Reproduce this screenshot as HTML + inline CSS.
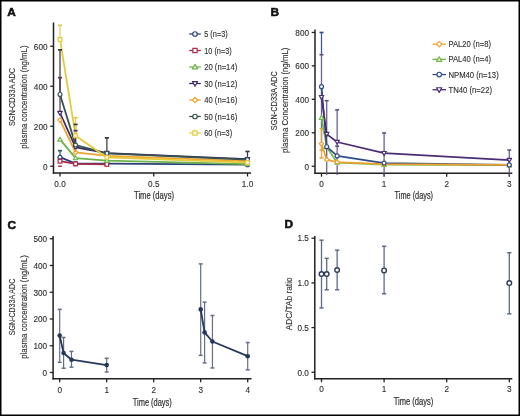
<!DOCTYPE html><html><head><meta charset="utf-8"><style>html,body{margin:0;padding:0;background:#fff;}svg{display:block;will-change:transform;}</style></head><body>
<svg width="520" height="416" viewBox="0 0 520 416" font-family='"Liberation Sans", sans-serif'>
<rect width="520" height="416" fill="#fff"/>
<text x="7.3" y="16.2" font-size="11.8" text-anchor="start" fill="#111" stroke="#111" stroke-width="0.55" font-weight="bold" >A</text>
<text x="270.6" y="16.1" font-size="11.8" text-anchor="start" fill="#111" stroke="#111" stroke-width="0.55" font-weight="bold" >B</text>
<text x="7.5" y="228.6" font-size="11.8" text-anchor="start" fill="#111" stroke="#111" stroke-width="0.55" font-weight="bold" >C</text>
<text x="284.4" y="228.1" font-size="11.8" text-anchor="start" fill="#111" stroke="#111" stroke-width="0.55" font-weight="bold" >D</text>
<line x1="53.5" y1="22.5" x2="53.5" y2="173.7" stroke="#231f20" stroke-width="1.5" />
<line x1="52.8" y1="173" x2="251" y2="173" stroke="#231f20" stroke-width="1.5" />
<line x1="50.2" y1="166.25" x2="53.5" y2="166.25" stroke="#231f20" stroke-width="1.3" />
<text x="47.5" y="169.5" font-size="8.2" text-anchor="end" fill="#2e2e2e" stroke="#2e2e2e" stroke-width="0.12" font-weight="normal" >0</text>
<line x1="50.2" y1="126.25" x2="53.5" y2="126.25" stroke="#231f20" stroke-width="1.3" />
<text x="47.5" y="129.5" font-size="8.2" text-anchor="end" fill="#2e2e2e" stroke="#2e2e2e" stroke-width="0.12" font-weight="normal" >200</text>
<line x1="50.2" y1="86.25" x2="53.5" y2="86.25" stroke="#231f20" stroke-width="1.3" />
<text x="47.5" y="89.5" font-size="8.2" text-anchor="end" fill="#2e2e2e" stroke="#2e2e2e" stroke-width="0.12" font-weight="normal" >400</text>
<line x1="50.2" y1="46.25" x2="53.5" y2="46.25" stroke="#231f20" stroke-width="1.3" />
<text x="47.5" y="49.5" font-size="8.2" text-anchor="end" fill="#2e2e2e" stroke="#2e2e2e" stroke-width="0.12" font-weight="normal" >600</text>
<line x1="60.0" y1="173" x2="60.0" y2="176.5" stroke="#231f20" stroke-width="1.3" />
<text x="60.0" y="186.8" font-size="8.2" text-anchor="middle" fill="#2e2e2e" stroke="#2e2e2e" stroke-width="0.12" font-weight="normal" >0.0</text>
<line x1="153.75" y1="173" x2="153.75" y2="176.5" stroke="#231f20" stroke-width="1.3" />
<text x="153.75" y="186.8" font-size="8.2" text-anchor="middle" fill="#2e2e2e" stroke="#2e2e2e" stroke-width="0.12" font-weight="normal" >0.5</text>
<line x1="247.5" y1="173" x2="247.5" y2="176.5" stroke="#231f20" stroke-width="1.3" />
<text x="247.5" y="186.8" font-size="8.2" text-anchor="middle" fill="#2e2e2e" stroke="#2e2e2e" stroke-width="0.12" font-weight="normal" >1.0</text>
<text x="154" y="199.3" font-size="10" text-anchor="middle" fill="#2e2e2e" stroke="#2e2e2e" stroke-width="0.2" font-weight="normal" textLength="40" lengthAdjust="spacingAndGlyphs" >Time (days)</text>
<text x="14.7" y="97" font-size="8.8" text-anchor="middle" fill="#2e2e2e" stroke="#2e2e2e" stroke-width="0.12" font-weight="normal" textLength="58" lengthAdjust="spacingAndGlyphs" transform="rotate(-90 14.7 97)" >SGN-CD33A ADC</text>
<text x="26.6" y="97.1" font-size="8.8" text-anchor="middle" fill="#2e2e2e" stroke="#2e2e2e" stroke-width="0.12" font-weight="normal" textLength="103.3" lengthAdjust="spacingAndGlyphs" transform="rotate(-90 26.6 97.1)" >plasma concentration (ng/mL)</text>
<polyline fill="none" stroke="#2a4179" stroke-width="1.8" stroke-linejoin="round" points="60.0,157.2 75.6,163.7 106.9,163.7 247.5,164.7"/>
<polyline fill="none" stroke="#aa2a4a" stroke-width="1.8" stroke-linejoin="round" points="60.0,161.2 75.6,163.8 106.9,164.4"/>
<polyline fill="none" stroke="#6cb44a" stroke-width="1.8" stroke-linejoin="round" points="60.0,139.4 75.6,158.1 106.9,160.7 247.5,164.1"/>
<polyline fill="none" stroke="#3f2a68" stroke-width="1.8" stroke-linejoin="round" points="60.0,113.0 75.6,147.4 106.9,153.1 247.5,159.2"/>
<polyline fill="none" stroke="#f0a530" stroke-width="1.8" stroke-linejoin="round" points="60.0,120.0 75.6,152.4 106.9,155.8 247.5,161.2"/>
<polyline fill="none" stroke="#35524c" stroke-width="1.8" stroke-linejoin="round" points="60.0,94.5 75.6,145.1 106.9,153.4 247.5,159.7"/>
<polyline fill="none" stroke="#e6c93a" stroke-width="1.8" stroke-linejoin="round" points="60.0,39.4 75.6,135.7 106.9,157.4 247.5,162.7"/>
<line x1="60.0" y1="150.65" x2="60.0" y2="157.25" stroke="#2f5a66" stroke-width="1.25" />
<line x1="60.0" y1="77.64999999999999" x2="60.0" y2="113.05" stroke="#5a3555" stroke-width="1.25" />
<line x1="75.5625" y1="130.65" x2="75.5625" y2="147.45" stroke="#5a3555" stroke-width="1.25" />
<line x1="60.0" y1="49.849999999999994" x2="60.0" y2="94.45" stroke="#3a3a45" stroke-width="1.25" />
<line x1="75.5625" y1="124.44999999999999" x2="75.5625" y2="145.05" stroke="#3a3a45" stroke-width="1.25" />
<line x1="106.875" y1="137.85" x2="106.875" y2="153.45" stroke="#3a3a45" stroke-width="1.25" />
<line x1="247.5" y1="151.45" x2="247.5" y2="159.65" stroke="#3a3a45" stroke-width="1.25" />
<line x1="60.0" y1="25.25" x2="60.0" y2="39.44999999999999" stroke="#e3cc55" stroke-width="1.25" />
<line x1="75.5625" y1="117.85" x2="75.5625" y2="135.65" stroke="#e3cc55" stroke-width="1.25" />
<line x1="57.9" y1="150.65" x2="62.1" y2="150.65" stroke="#2f5a66" stroke-width="1.7" />
<line x1="57.9" y1="77.64999999999999" x2="62.1" y2="77.64999999999999" stroke="#5a3555" stroke-width="1.7" />
<line x1="73.4625" y1="130.65" x2="77.6625" y2="130.65" stroke="#5a3555" stroke-width="1.7" />
<line x1="57.9" y1="49.849999999999994" x2="62.1" y2="49.849999999999994" stroke="#3a3a45" stroke-width="1.7" />
<line x1="73.4625" y1="124.44999999999999" x2="77.6625" y2="124.44999999999999" stroke="#3a3a45" stroke-width="1.7" />
<line x1="104.775" y1="137.85" x2="108.975" y2="137.85" stroke="#3a3a45" stroke-width="1.7" />
<line x1="245.4" y1="151.45" x2="249.6" y2="151.45" stroke="#3a3a45" stroke-width="1.7" />
<line x1="57.9" y1="25.25" x2="62.1" y2="25.25" stroke="#e3cc55" stroke-width="1.7" />
<line x1="73.4625" y1="117.85" x2="77.6625" y2="117.85" stroke="#e3cc55" stroke-width="1.7" />
<line x1="58.2" y1="166.25" x2="61.8" y2="166.25" stroke="#aa2a4a" stroke-width="1.5" />
<circle cx="60.0" cy="157.25" r="1.95" fill="#fff" stroke="#2a4179" stroke-width="1.2"/>
<circle cx="75.5625" cy="163.65" r="1.95" fill="#fff" stroke="#2a4179" stroke-width="1.2"/>
<circle cx="106.875" cy="163.65" r="1.95" fill="#fff" stroke="#2a4179" stroke-width="1.2"/>
<circle cx="247.5" cy="164.65" r="1.95" fill="#fff" stroke="#2a4179" stroke-width="1.2"/>
<rect x="58.1475" y="159.3975" width="3.7049999999999996" height="3.7049999999999996" fill="#fff" stroke="#aa2a4a" stroke-width="1.2"/>
<rect x="73.71" y="161.9975" width="3.7049999999999996" height="3.7049999999999996" fill="#fff" stroke="#aa2a4a" stroke-width="1.2"/>
<rect x="105.0225" y="162.5975" width="3.7049999999999996" height="3.7049999999999996" fill="#fff" stroke="#aa2a4a" stroke-width="1.2"/>
<polygon points="60.0,137.20749999999998 62.2425,141.13187499999998 57.7575,141.13187499999998" fill="#fff" stroke="#6cb44a" stroke-width="1.2" stroke-linejoin="round"/>
<polygon points="75.5625,155.8075 77.805,159.731875 73.32,159.731875" fill="#fff" stroke="#6cb44a" stroke-width="1.2" stroke-linejoin="round"/>
<polygon points="106.875,158.4075 109.1175,162.331875 104.6325,162.331875" fill="#fff" stroke="#6cb44a" stroke-width="1.2" stroke-linejoin="round"/>
<polygon points="247.5,161.8075 249.7425,165.731875 245.2575,165.731875" fill="#fff" stroke="#6cb44a" stroke-width="1.2" stroke-linejoin="round"/>
<polygon points="60.0,115.29249999999999 62.2425,111.36812499999999 57.7575,111.36812499999999" fill="#fff" stroke="#3f2a68" stroke-width="1.2" stroke-linejoin="round"/>
<polygon points="75.5625,149.6925 77.805,145.768125 73.32,145.768125" fill="#fff" stroke="#3f2a68" stroke-width="1.2" stroke-linejoin="round"/>
<polygon points="106.875,155.29250000000002 109.1175,151.36812500000002 104.6325,151.36812500000002" fill="#fff" stroke="#3f2a68" stroke-width="1.2" stroke-linejoin="round"/>
<polygon points="247.5,161.4925 249.7425,157.568125 245.2575,157.568125" fill="#fff" stroke="#3f2a68" stroke-width="1.2" stroke-linejoin="round"/>
<polygon points="60.0,117.8075 62.2425,120.05 60.0,122.29249999999999 57.7575,120.05" fill="#fff" stroke="#f0a530" stroke-width="1.2"/>
<polygon points="75.5625,150.20749999999998 77.805,152.45 75.5625,154.6925 73.32,152.45" fill="#fff" stroke="#f0a530" stroke-width="1.2"/>
<polygon points="106.875,153.6075 109.1175,155.85 106.875,158.0925 104.6325,155.85" fill="#fff" stroke="#f0a530" stroke-width="1.2"/>
<polygon points="247.5,159.0075 249.7425,161.25 247.5,163.4925 245.2575,161.25" fill="#fff" stroke="#f0a530" stroke-width="1.2"/>
<circle cx="60.0" cy="94.45" r="1.95" fill="#fff" stroke="#35524c" stroke-width="1.2"/>
<circle cx="75.5625" cy="145.05" r="1.95" fill="#fff" stroke="#35524c" stroke-width="1.2"/>
<circle cx="106.875" cy="153.45" r="1.95" fill="#fff" stroke="#35524c" stroke-width="1.2"/>
<circle cx="247.5" cy="159.65" r="1.95" fill="#fff" stroke="#35524c" stroke-width="1.2"/>
<rect x="58.1475" y="37.59749999999999" width="3.7049999999999996" height="3.7049999999999996" fill="#fff" stroke="#e6c93a" stroke-width="1.2"/>
<rect x="73.71" y="133.7975" width="3.7049999999999996" height="3.7049999999999996" fill="#fff" stroke="#e6c93a" stroke-width="1.2"/>
<rect x="105.0225" y="155.5975" width="3.7049999999999996" height="3.7049999999999996" fill="#fff" stroke="#e6c93a" stroke-width="1.2"/>
<rect x="245.6475" y="160.7975" width="3.7049999999999996" height="3.7049999999999996" fill="#fff" stroke="#e6c93a" stroke-width="1.2"/>
<line x1="189.2" y1="34.0" x2="200.8" y2="34.0" stroke="#2a4179" stroke-width="1.3" />
<circle cx="195" cy="34.0" r="2.25" fill="#fff" stroke="#2a4179" stroke-width="1.2"/>
<text x="204.2" y="37.0" font-size="8.6" text-anchor="start" fill="#2e2e2e" stroke="#2e2e2e" stroke-width="0.12" font-weight="normal" textLength="23.6" lengthAdjust="spacingAndGlyphs" >5 (n=3)</text>
<line x1="189.2" y1="50.5" x2="200.8" y2="50.5" stroke="#aa2a4a" stroke-width="1.3" />
<rect x="192.8625" y="48.3625" width="4.2749999999999995" height="4.2749999999999995" fill="#fff" stroke="#aa2a4a" stroke-width="1.2"/>
<text x="204.2" y="53.5" font-size="8.6" text-anchor="start" fill="#2e2e2e" stroke="#2e2e2e" stroke-width="0.12" font-weight="normal" textLength="27.5" lengthAdjust="spacingAndGlyphs" >10 (n=3)</text>
<line x1="189.2" y1="67.0" x2="200.8" y2="67.0" stroke="#6cb44a" stroke-width="1.3" />
<polygon points="195,64.4125 197.5875,68.940625 192.4125,68.940625" fill="#fff" stroke="#6cb44a" stroke-width="1.2" stroke-linejoin="round"/>
<text x="204.2" y="70.0" font-size="8.6" text-anchor="start" fill="#2e2e2e" stroke="#2e2e2e" stroke-width="0.12" font-weight="normal" textLength="33" lengthAdjust="spacingAndGlyphs" >20 (n=14)</text>
<line x1="189.2" y1="83.5" x2="200.8" y2="83.5" stroke="#3f2a68" stroke-width="1.3" />
<polygon points="195,86.0875 197.5875,81.559375 192.4125,81.559375" fill="#fff" stroke="#3f2a68" stroke-width="1.2" stroke-linejoin="round"/>
<text x="204.2" y="86.5" font-size="8.6" text-anchor="start" fill="#2e2e2e" stroke="#2e2e2e" stroke-width="0.12" font-weight="normal" textLength="33" lengthAdjust="spacingAndGlyphs" >30 (n=12)</text>
<line x1="189.2" y1="100.0" x2="200.8" y2="100.0" stroke="#f0a530" stroke-width="1.3" />
<polygon points="195,97.4125 197.5875,100.0 195,102.5875 192.4125,100.0" fill="#fff" stroke="#f0a530" stroke-width="1.2"/>
<text x="204.2" y="103.0" font-size="8.6" text-anchor="start" fill="#2e2e2e" stroke="#2e2e2e" stroke-width="0.12" font-weight="normal" textLength="33" lengthAdjust="spacingAndGlyphs" >40 (n=16)</text>
<line x1="189.2" y1="116.5" x2="200.8" y2="116.5" stroke="#35524c" stroke-width="1.3" />
<circle cx="195" cy="116.5" r="2.25" fill="#fff" stroke="#35524c" stroke-width="1.2"/>
<text x="204.2" y="119.5" font-size="8.6" text-anchor="start" fill="#2e2e2e" stroke="#2e2e2e" stroke-width="0.12" font-weight="normal" textLength="33" lengthAdjust="spacingAndGlyphs" >50 (n=16)</text>
<line x1="189.2" y1="133.0" x2="200.8" y2="133.0" stroke="#e6c93a" stroke-width="1.3" />
<rect x="192.8625" y="130.8625" width="4.2749999999999995" height="4.2749999999999995" fill="#fff" stroke="#e6c93a" stroke-width="1.2"/>
<text x="204.2" y="136.0" font-size="8.6" text-anchor="start" fill="#2e2e2e" stroke="#2e2e2e" stroke-width="0.12" font-weight="normal" textLength="28" lengthAdjust="spacingAndGlyphs" >60 (n=3)</text>
<line x1="315" y1="29.4" x2="315" y2="173.89999999999998" stroke="#231f20" stroke-width="1.5" />
<line x1="314.3" y1="173.2" x2="512.3" y2="173.2" stroke="#231f20" stroke-width="1.5" />
<line x1="311.7" y1="166.25" x2="315" y2="166.25" stroke="#231f20" stroke-width="1.3" />
<text x="309" y="169.5" font-size="8.2" text-anchor="end" fill="#2e2e2e" stroke="#2e2e2e" stroke-width="0.12" font-weight="normal" >0</text>
<line x1="311.7" y1="132.8" x2="315" y2="132.8" stroke="#231f20" stroke-width="1.3" />
<text x="309" y="136.05" font-size="8.2" text-anchor="end" fill="#2e2e2e" stroke="#2e2e2e" stroke-width="0.12" font-weight="normal" >200</text>
<line x1="311.7" y1="99.35" x2="315" y2="99.35" stroke="#231f20" stroke-width="1.3" />
<text x="309" y="102.6" font-size="8.2" text-anchor="end" fill="#2e2e2e" stroke="#2e2e2e" stroke-width="0.12" font-weight="normal" >400</text>
<line x1="311.7" y1="65.89999999999999" x2="315" y2="65.89999999999999" stroke="#231f20" stroke-width="1.3" />
<text x="309" y="69.14999999999999" font-size="8.2" text-anchor="end" fill="#2e2e2e" stroke="#2e2e2e" stroke-width="0.12" font-weight="normal" >600</text>
<line x1="311.7" y1="32.44999999999999" x2="315" y2="32.44999999999999" stroke="#231f20" stroke-width="1.3" />
<text x="309" y="35.69999999999999" font-size="8.2" text-anchor="end" fill="#2e2e2e" stroke="#2e2e2e" stroke-width="0.12" font-weight="normal" >800</text>
<line x1="321.5" y1="173.2" x2="321.5" y2="176.7" stroke="#231f20" stroke-width="1.3" />
<text x="321.5" y="186.6" font-size="8.2" text-anchor="middle" fill="#2e2e2e" stroke="#2e2e2e" stroke-width="0.12" font-weight="normal" >0</text>
<line x1="384.1" y1="173.2" x2="384.1" y2="176.7" stroke="#231f20" stroke-width="1.3" />
<text x="384.1" y="186.6" font-size="8.2" text-anchor="middle" fill="#2e2e2e" stroke="#2e2e2e" stroke-width="0.12" font-weight="normal" >1</text>
<line x1="446.7" y1="173.2" x2="446.7" y2="176.7" stroke="#231f20" stroke-width="1.3" />
<text x="446.7" y="186.6" font-size="8.2" text-anchor="middle" fill="#2e2e2e" stroke="#2e2e2e" stroke-width="0.12" font-weight="normal" >2</text>
<line x1="509.3" y1="173.2" x2="509.3" y2="176.7" stroke="#231f20" stroke-width="1.3" />
<text x="509.3" y="186.6" font-size="8.2" text-anchor="middle" fill="#2e2e2e" stroke="#2e2e2e" stroke-width="0.12" font-weight="normal" >3</text>
<text x="413.8" y="199.4" font-size="10" text-anchor="middle" fill="#2e2e2e" stroke="#2e2e2e" stroke-width="0.2" font-weight="normal" textLength="38.4" lengthAdjust="spacingAndGlyphs" >Time (days)</text>
<text x="276.6" y="100.7" font-size="8.8" text-anchor="middle" fill="#2e2e2e" stroke="#2e2e2e" stroke-width="0.12" font-weight="normal" textLength="59.2" lengthAdjust="spacingAndGlyphs" transform="rotate(-90 276.6 100.7)" >SGN-CD33A ADC</text>
<text x="288.3" y="100.3" font-size="8.8" text-anchor="middle" fill="#2e2e2e" stroke="#2e2e2e" stroke-width="0.12" font-weight="normal" textLength="105.4" lengthAdjust="spacingAndGlyphs" transform="rotate(-90 288.3 100.3)" >plasma Concentration (ng/mL)</text>
<line x1="321.5" y1="32.44999999999999" x2="321.5" y2="54.69425" stroke="#2e4c86" stroke-width="1.3" opacity="0.9"/>
<line x1="319.5" y1="32.44999999999999" x2="323.5" y2="32.44999999999999" stroke="#2e4c86" stroke-width="1.6" />
<line x1="321.5" y1="54.69425" x2="321.5" y2="141.1625" stroke="#5e4f80" stroke-width="1.3" opacity="0.9"/>
<line x1="319.5" y1="54.69425" x2="323.5" y2="54.69425" stroke="#5e4f80" stroke-width="1.6" />
<line x1="321.5" y1="128.61875" x2="321.5" y2="157.8875" stroke="#eea232" stroke-width="1.3" opacity="0.9"/>
<line x1="319.5" y1="128.61875" x2="323.5" y2="128.61875" stroke="#eea232" stroke-width="1.6" />
<line x1="319.5" y1="150.02675" x2="323.5" y2="150.02675" stroke="#eea232" stroke-width="1.6" />
<line x1="319.5" y1="157.8875" x2="323.5" y2="157.8875" stroke="#eea232" stroke-width="1.6" />
<line x1="326.6958" y1="100.688" x2="326.6958" y2="174.947" stroke="#5e4f80" stroke-width="1.3" opacity="0.9"/>
<line x1="324.6958" y1="100.688" x2="328.6958" y2="100.688" stroke="#5e4f80" stroke-width="1.6" />
<line x1="337.15" y1="109.88675" x2="337.15" y2="174.947" stroke="#5e4f80" stroke-width="1.3" opacity="0.9"/>
<line x1="335.15" y1="109.88675" x2="339.15" y2="109.88675" stroke="#5e4f80" stroke-width="1.6" />
<line x1="335.15" y1="146.18" x2="339.15" y2="146.18" stroke="#5e4f80" stroke-width="1.6" />
<line x1="384.1" y1="132.96725" x2="384.1" y2="175.44875" stroke="#5e4f80" stroke-width="1.3" opacity="0.9"/>
<line x1="382.1" y1="132.96725" x2="386.1" y2="132.96725" stroke="#5e4f80" stroke-width="1.6" />
<line x1="509.3" y1="150.02675" x2="509.3" y2="175.78325" stroke="#5e4f80" stroke-width="1.3" opacity="0.9"/>
<line x1="507.3" y1="150.02675" x2="511.3" y2="150.02675" stroke="#5e4f80" stroke-width="1.6" />
<polyline fill="none" stroke="#71b844" stroke-width="1.7" stroke-linejoin="round" points="321.5,117.7 326.7,147.0 337.1,162.6 384.1,164.7 509.3,165.2"/>
<polyline fill="none" stroke="#2e4c86" stroke-width="1.7" stroke-linejoin="round" points="321.5,86.6 326.7,146.7 337.1,155.9 384.1,163.1 509.3,164.9"/>
<polyline fill="none" stroke="#eea232" stroke-width="1.7" stroke-linejoin="round" points="321.5,143.8 326.7,159.7 337.1,162.1 384.1,164.1 509.3,164.9"/>
<polyline fill="none" stroke="#4b2d73" stroke-width="1.7" stroke-linejoin="round" points="321.5,97.2 326.7,134.1 337.1,142.0 384.1,153.2 509.3,160.1"/>
<polygon points="321.5,115.505 323.7425,119.42937500000001 319.2575,119.42937500000001" fill="#fff" stroke="#71b844" stroke-width="1.2" stroke-linejoin="round"/>
<polygon points="326.6958,144.77375 328.9383,148.698125 324.4533,148.698125" fill="#fff" stroke="#71b844" stroke-width="1.2" stroke-linejoin="round"/>
<polygon points="337.15,160.328 339.3925,164.252375 334.90749999999997,164.252375" fill="#fff" stroke="#71b844" stroke-width="1.2" stroke-linejoin="round"/>
<polygon points="384.1,162.50225 386.34250000000003,166.426625 381.8575,166.426625" fill="#fff" stroke="#71b844" stroke-width="1.2" stroke-linejoin="round"/>
<polygon points="509.3,163.004 511.5425,166.928375 507.0575,166.928375" fill="#fff" stroke="#71b844" stroke-width="1.2" stroke-linejoin="round"/>
<polygon points="321.5,141.596 323.7425,143.8385 321.5,146.08100000000002 319.2575,143.8385" fill="#fff" stroke="#eea232" stroke-width="1.2"/>
<polygon points="326.6958,157.48475 328.9383,159.72725 326.6958,161.96975 324.4533,159.72725" fill="#fff" stroke="#eea232" stroke-width="1.2"/>
<polygon points="337.15,159.82625 339.3925,162.06875 337.15,164.31125 334.90749999999997,162.06875" fill="#fff" stroke="#eea232" stroke-width="1.2"/>
<polygon points="384.1,161.83325 386.34250000000003,164.07575 384.1,166.31825 381.8575,164.07575" fill="#fff" stroke="#eea232" stroke-width="1.2"/>
<polygon points="509.3,162.6695 511.5425,164.912 509.3,167.1545 507.0575,164.912" fill="#fff" stroke="#eea232" stroke-width="1.2"/>
<circle cx="321.5" cy="86.639" r="1.95" fill="#fff" stroke="#2e4c86" stroke-width="1.2"/>
<circle cx="326.6958" cy="146.68175" r="1.95" fill="#fff" stroke="#2e4c86" stroke-width="1.2"/>
<circle cx="337.15" cy="155.8805" r="1.95" fill="#fff" stroke="#2e4c86" stroke-width="1.2"/>
<circle cx="384.1" cy="163.07225" r="1.95" fill="#fff" stroke="#2e4c86" stroke-width="1.2"/>
<circle cx="509.3" cy="164.912" r="1.95" fill="#fff" stroke="#2e4c86" stroke-width="1.2"/>
<polygon points="321.5,99.41825 323.7425,95.49387499999999 319.2575,95.49387499999999" fill="#fff" stroke="#4b2d73" stroke-width="1.2" stroke-linejoin="round"/>
<polygon points="326.6958,136.3805 328.9383,132.45612500000001 324.4533,132.45612500000001" fill="#fff" stroke="#4b2d73" stroke-width="1.2" stroke-linejoin="round"/>
<polygon points="337.15,144.24125 339.3925,140.316875 334.90749999999997,140.316875" fill="#fff" stroke="#4b2d73" stroke-width="1.2" stroke-linejoin="round"/>
<polygon points="384.1,155.447 386.34250000000003,151.522625 381.8575,151.522625" fill="#fff" stroke="#4b2d73" stroke-width="1.2" stroke-linejoin="round"/>
<polygon points="509.3,162.30425 511.5425,158.379875 507.0575,158.379875" fill="#fff" stroke="#4b2d73" stroke-width="1.2" stroke-linejoin="round"/>
<line x1="432.5" y1="44.2" x2="446" y2="44.2" stroke="#eea232" stroke-width="1.3" />
<polygon points="439.2,41.55500000000001 441.84499999999997,44.2 439.2,46.845 436.555,44.2" fill="#fff" stroke="#eea232" stroke-width="1.2"/>
<text x="448.5" y="47.2" font-size="8.3" text-anchor="start" fill="#2e2e2e" stroke="#2e2e2e" stroke-width="0.12" font-weight="normal" textLength="42.5" lengthAdjust="spacingAndGlyphs" >PAL20 (n=8)</text>
<line x1="432.5" y1="59.370000000000005" x2="446" y2="59.370000000000005" stroke="#71b844" stroke-width="1.3" />
<polygon points="439.2,56.72500000000001 441.84499999999997,61.353750000000005 436.555,61.353750000000005" fill="#fff" stroke="#71b844" stroke-width="1.2" stroke-linejoin="round"/>
<text x="448.5" y="62.370000000000005" font-size="8.3" text-anchor="start" fill="#2e2e2e" stroke="#2e2e2e" stroke-width="0.12" font-weight="normal" textLength="42.5" lengthAdjust="spacingAndGlyphs" >PAL40 (n=4)</text>
<line x1="432.5" y1="74.54" x2="446" y2="74.54" stroke="#2e4c86" stroke-width="1.3" />
<circle cx="439.2" cy="74.54" r="2.3" fill="#fff" stroke="#2e4c86" stroke-width="1.2"/>
<text x="448.5" y="77.54" font-size="8.3" text-anchor="start" fill="#2e2e2e" stroke="#2e2e2e" stroke-width="0.12" font-weight="normal" textLength="50.2" lengthAdjust="spacingAndGlyphs" >NPM40 (n=13)</text>
<line x1="432.5" y1="89.71000000000001" x2="446" y2="89.71000000000001" stroke="#4b2d73" stroke-width="1.3" />
<polygon points="439.2,92.355 441.84499999999997,87.72625000000001 436.555,87.72625000000001" fill="#fff" stroke="#4b2d73" stroke-width="1.2" stroke-linejoin="round"/>
<text x="448.5" y="92.71000000000001" font-size="8.3" text-anchor="start" fill="#2e2e2e" stroke="#2e2e2e" stroke-width="0.12" font-weight="normal" textLength="43.5" lengthAdjust="spacingAndGlyphs" >TN40 (n=22)</text>
<line x1="53.1" y1="236.1" x2="53.1" y2="379.4" stroke="#231f20" stroke-width="1.5" />
<line x1="52.4" y1="378.7" x2="251.5" y2="378.7" stroke="#231f20" stroke-width="1.5" />
<line x1="49.800000000000004" y1="372.5" x2="53.1" y2="372.5" stroke="#231f20" stroke-width="1.3" />
<text x="47.1" y="375.75" font-size="8.2" text-anchor="end" fill="#2e2e2e" stroke="#2e2e2e" stroke-width="0.12" font-weight="normal" >0</text>
<line x1="49.800000000000004" y1="345.75" x2="53.1" y2="345.75" stroke="#231f20" stroke-width="1.3" />
<text x="47.1" y="349.0" font-size="8.2" text-anchor="end" fill="#2e2e2e" stroke="#2e2e2e" stroke-width="0.12" font-weight="normal" >100</text>
<line x1="49.800000000000004" y1="319.0" x2="53.1" y2="319.0" stroke="#231f20" stroke-width="1.3" />
<text x="47.1" y="322.25" font-size="8.2" text-anchor="end" fill="#2e2e2e" stroke="#2e2e2e" stroke-width="0.12" font-weight="normal" >200</text>
<line x1="49.800000000000004" y1="292.25" x2="53.1" y2="292.25" stroke="#231f20" stroke-width="1.3" />
<text x="47.1" y="295.5" font-size="8.2" text-anchor="end" fill="#2e2e2e" stroke="#2e2e2e" stroke-width="0.12" font-weight="normal" >300</text>
<line x1="49.800000000000004" y1="265.5" x2="53.1" y2="265.5" stroke="#231f20" stroke-width="1.3" />
<text x="47.1" y="268.75" font-size="8.2" text-anchor="end" fill="#2e2e2e" stroke="#2e2e2e" stroke-width="0.12" font-weight="normal" >400</text>
<line x1="49.800000000000004" y1="238.75" x2="53.1" y2="238.75" stroke="#231f20" stroke-width="1.3" />
<text x="47.1" y="242.0" font-size="8.2" text-anchor="end" fill="#2e2e2e" stroke="#2e2e2e" stroke-width="0.12" font-weight="normal" >500</text>
<line x1="59.7" y1="378.7" x2="59.7" y2="382.2" stroke="#231f20" stroke-width="1.3" />
<text x="59.7" y="392.6" font-size="8.2" text-anchor="middle" fill="#2e2e2e" stroke="#2e2e2e" stroke-width="0.12" font-weight="normal" >0</text>
<line x1="106.7" y1="378.7" x2="106.7" y2="382.2" stroke="#231f20" stroke-width="1.3" />
<text x="106.7" y="392.6" font-size="8.2" text-anchor="middle" fill="#2e2e2e" stroke="#2e2e2e" stroke-width="0.12" font-weight="normal" >1</text>
<line x1="153.7" y1="378.7" x2="153.7" y2="382.2" stroke="#231f20" stroke-width="1.3" />
<text x="153.7" y="392.6" font-size="8.2" text-anchor="middle" fill="#2e2e2e" stroke="#2e2e2e" stroke-width="0.12" font-weight="normal" >2</text>
<line x1="200.7" y1="378.7" x2="200.7" y2="382.2" stroke="#231f20" stroke-width="1.3" />
<text x="200.7" y="392.6" font-size="8.2" text-anchor="middle" fill="#2e2e2e" stroke="#2e2e2e" stroke-width="0.12" font-weight="normal" >3</text>
<line x1="247.7" y1="378.7" x2="247.7" y2="382.2" stroke="#231f20" stroke-width="1.3" />
<text x="247.7" y="392.6" font-size="8.2" text-anchor="middle" fill="#2e2e2e" stroke="#2e2e2e" stroke-width="0.12" font-weight="normal" >4</text>
<text x="152.3" y="405.6" font-size="10" text-anchor="middle" fill="#2e2e2e" stroke="#2e2e2e" stroke-width="0.2" font-weight="normal" textLength="39" lengthAdjust="spacingAndGlyphs" >Time (days)</text>
<text x="14.6" y="307" font-size="8.8" text-anchor="middle" fill="#2e2e2e" stroke="#2e2e2e" stroke-width="0.12" font-weight="normal" textLength="56.6" lengthAdjust="spacingAndGlyphs" transform="rotate(-90 14.6 307)" >SGN-CD33A ADC</text>
<text x="26.6" y="307" font-size="8.8" text-anchor="middle" fill="#2e2e2e" stroke="#2e2e2e" stroke-width="0.12" font-weight="normal" textLength="103.6" lengthAdjust="spacingAndGlyphs" transform="rotate(-90 26.6 307)" >plasma concentration (ng/mL)</text>
<line x1="59.7" y1="309.37" x2="59.7" y2="362.335" stroke="#646f85" stroke-width="1.2" />
<line x1="57.7" y1="309.37" x2="61.7" y2="309.37" stroke="#646f85" stroke-width="1.5" />
<line x1="57.7" y1="362.335" x2="61.7" y2="362.335" stroke="#646f85" stroke-width="1.5" />
<line x1="63.601000000000006" y1="337.4575" x2="63.601000000000006" y2="368.22" stroke="#646f85" stroke-width="1.2" />
<line x1="61.601000000000006" y1="337.4575" x2="65.601" y2="337.4575" stroke="#646f85" stroke-width="1.5" />
<line x1="61.601000000000006" y1="368.22" x2="65.601" y2="368.22" stroke="#646f85" stroke-width="1.5" />
<line x1="71.45" y1="351.3675" x2="71.45" y2="367.15" stroke="#646f85" stroke-width="1.2" />
<line x1="69.45" y1="351.3675" x2="73.45" y2="351.3675" stroke="#646f85" stroke-width="1.5" />
<line x1="69.45" y1="367.15" x2="73.45" y2="367.15" stroke="#646f85" stroke-width="1.5" />
<line x1="106.7" y1="358.3225" x2="106.7" y2="371.965" stroke="#646f85" stroke-width="1.2" />
<line x1="104.7" y1="358.3225" x2="108.7" y2="358.3225" stroke="#646f85" stroke-width="1.5" />
<line x1="104.7" y1="371.965" x2="108.7" y2="371.965" stroke="#646f85" stroke-width="1.5" />
<line x1="200.7" y1="263.895" x2="200.7" y2="355.38" stroke="#646f85" stroke-width="1.2" />
<line x1="198.7" y1="263.895" x2="202.7" y2="263.895" stroke="#646f85" stroke-width="1.5" />
<line x1="198.7" y1="355.38" x2="202.7" y2="355.38" stroke="#646f85" stroke-width="1.5" />
<line x1="204.601" y1="302.1475" x2="204.601" y2="362.87" stroke="#646f85" stroke-width="1.2" />
<line x1="202.601" y1="302.1475" x2="206.601" y2="302.1475" stroke="#646f85" stroke-width="1.5" />
<line x1="202.601" y1="362.87" x2="206.601" y2="362.87" stroke="#646f85" stroke-width="1.5" />
<line x1="212.45" y1="315.5225" x2="212.45" y2="367.9525" stroke="#646f85" stroke-width="1.2" />
<line x1="210.45" y1="315.5225" x2="214.45" y2="315.5225" stroke="#646f85" stroke-width="1.5" />
<line x1="210.45" y1="367.9525" x2="214.45" y2="367.9525" stroke="#646f85" stroke-width="1.5" />
<line x1="247.7" y1="342.54" x2="247.7" y2="369.825" stroke="#646f85" stroke-width="1.2" />
<line x1="245.7" y1="342.54" x2="249.7" y2="342.54" stroke="#646f85" stroke-width="1.5" />
<line x1="245.7" y1="369.825" x2="249.7" y2="369.825" stroke="#646f85" stroke-width="1.5" />
<polyline fill="none" stroke="#26385c" stroke-width="1.8" stroke-linejoin="round" points="59.7,335.6 63.6,353.0 71.5,359.7 106.7,365.1"/>
<circle cx="59.7" cy="335.6" r="2.3" fill="#26385c"/>
<circle cx="63.6" cy="353.0" r="2.3" fill="#26385c"/>
<circle cx="71.5" cy="359.7" r="2.3" fill="#26385c"/>
<circle cx="106.7" cy="365.1" r="2.3" fill="#26385c"/>
<polyline fill="none" stroke="#26385c" stroke-width="1.8" stroke-linejoin="round" points="200.7,309.4 204.6,332.4 212.4,341.5 247.7,356.2"/>
<circle cx="200.7" cy="309.4" r="2.3" fill="#26385c"/>
<circle cx="204.6" cy="332.4" r="2.3" fill="#26385c"/>
<circle cx="212.4" cy="341.5" r="2.3" fill="#26385c"/>
<circle cx="247.7" cy="356.2" r="2.3" fill="#26385c"/>
<line x1="314.8" y1="236.1" x2="314.8" y2="379.4" stroke="#231f20" stroke-width="1.5" />
<line x1="314.1" y1="378.7" x2="512.3" y2="378.7" stroke="#231f20" stroke-width="1.5" />
<line x1="311.5" y1="372.3" x2="314.8" y2="372.3" stroke="#231f20" stroke-width="1.3" />
<text x="308.8" y="375.55" font-size="8.2" text-anchor="end" fill="#2e2e2e" stroke="#2e2e2e" stroke-width="0.12" font-weight="normal" >0.0</text>
<line x1="311.5" y1="327.6" x2="314.8" y2="327.6" stroke="#231f20" stroke-width="1.3" />
<text x="308.8" y="330.85" font-size="8.2" text-anchor="end" fill="#2e2e2e" stroke="#2e2e2e" stroke-width="0.12" font-weight="normal" >0.5</text>
<line x1="311.5" y1="282.9" x2="314.8" y2="282.9" stroke="#231f20" stroke-width="1.3" />
<text x="308.8" y="286.15" font-size="8.2" text-anchor="end" fill="#2e2e2e" stroke="#2e2e2e" stroke-width="0.12" font-weight="normal" >1.0</text>
<line x1="311.5" y1="238.2" x2="314.8" y2="238.2" stroke="#231f20" stroke-width="1.3" />
<text x="308.8" y="241.45" font-size="8.2" text-anchor="end" fill="#2e2e2e" stroke="#2e2e2e" stroke-width="0.12" font-weight="normal" >1.5</text>
<line x1="321.5" y1="378.7" x2="321.5" y2="382.2" stroke="#231f20" stroke-width="1.3" />
<text x="321.5" y="392.2" font-size="8.2" text-anchor="middle" fill="#2e2e2e" stroke="#2e2e2e" stroke-width="0.12" font-weight="normal" >0</text>
<line x1="384.1" y1="378.7" x2="384.1" y2="382.2" stroke="#231f20" stroke-width="1.3" />
<text x="384.1" y="392.2" font-size="8.2" text-anchor="middle" fill="#2e2e2e" stroke="#2e2e2e" stroke-width="0.12" font-weight="normal" >1</text>
<line x1="446.7" y1="378.7" x2="446.7" y2="382.2" stroke="#231f20" stroke-width="1.3" />
<text x="446.7" y="392.2" font-size="8.2" text-anchor="middle" fill="#2e2e2e" stroke="#2e2e2e" stroke-width="0.12" font-weight="normal" >2</text>
<line x1="509.3" y1="378.7" x2="509.3" y2="382.2" stroke="#231f20" stroke-width="1.3" />
<text x="509.3" y="392.2" font-size="8.2" text-anchor="middle" fill="#2e2e2e" stroke="#2e2e2e" stroke-width="0.12" font-weight="normal" >3</text>
<text x="413.5" y="405.3" font-size="10" text-anchor="middle" fill="#2e2e2e" stroke="#2e2e2e" stroke-width="0.2" font-weight="normal" textLength="39.4" lengthAdjust="spacingAndGlyphs" >Time (days)</text>
<text x="291.8" y="303.8" font-size="8.8" text-anchor="middle" fill="#2e2e2e" stroke="#2e2e2e" stroke-width="0.12" font-weight="normal" textLength="52.9" lengthAdjust="spacingAndGlyphs" transform="rotate(-90 291.8 303.8)" >ADC/TAb ratio</text>
<line x1="321.5" y1="240.1668" x2="321.5" y2="307.932" stroke="#5d6b86" stroke-width="1.3" />
<line x1="319.4" y1="240.1668" x2="323.6" y2="240.1668" stroke="#5d6b86" stroke-width="1.5" />
<line x1="319.4" y1="307.932" x2="323.6" y2="307.932" stroke="#5d6b86" stroke-width="1.5" />
<line x1="326.6958" y1="258.315" x2="326.6958" y2="289.7838" stroke="#5d6b86" stroke-width="1.3" />
<line x1="324.5958" y1="258.315" x2="328.79580000000004" y2="258.315" stroke="#5d6b86" stroke-width="1.5" />
<line x1="324.5958" y1="289.7838" x2="328.79580000000004" y2="289.7838" stroke="#5d6b86" stroke-width="1.5" />
<line x1="337.15" y1="250.1796" x2="337.15" y2="289.7838" stroke="#5d6b86" stroke-width="1.3" />
<line x1="335.04999999999995" y1="250.1796" x2="339.25" y2="250.1796" stroke="#5d6b86" stroke-width="1.5" />
<line x1="335.04999999999995" y1="289.7838" x2="339.25" y2="289.7838" stroke="#5d6b86" stroke-width="1.5" />
<line x1="384.1" y1="246.246" x2="384.1" y2="293.8068" stroke="#5d6b86" stroke-width="1.3" />
<line x1="382.0" y1="246.246" x2="386.20000000000005" y2="246.246" stroke="#5d6b86" stroke-width="1.5" />
<line x1="382.0" y1="293.8068" x2="386.20000000000005" y2="293.8068" stroke="#5d6b86" stroke-width="1.5" />
<line x1="509.3" y1="252.7722" x2="509.3" y2="313.8324" stroke="#5d6b86" stroke-width="1.3" />
<line x1="507.2" y1="252.7722" x2="511.40000000000003" y2="252.7722" stroke="#5d6b86" stroke-width="1.5" />
<line x1="507.2" y1="313.8324" x2="511.40000000000003" y2="313.8324" stroke="#5d6b86" stroke-width="1.5" />
<circle cx="321.5" cy="274.0" r="2.3" fill="#fff" stroke="#2c3b5a" stroke-width="1.4"/>
<circle cx="326.7" cy="274.0" r="2.3" fill="#fff" stroke="#2c3b5a" stroke-width="1.4"/>
<circle cx="337.1" cy="270.0" r="2.3" fill="#fff" stroke="#2c3b5a" stroke-width="1.4"/>
<circle cx="384.1" cy="270.4" r="2.3" fill="#fff" stroke="#2c3b5a" stroke-width="1.4"/>
<circle cx="509.3" cy="283.1" r="2.3" fill="#fff" stroke="#2c3b5a" stroke-width="1.4"/>
<rect x="0.75" y="0.75" width="518.5" height="414.5" fill="none" stroke="#000" stroke-width="1.5"/>
</svg></body></html>
